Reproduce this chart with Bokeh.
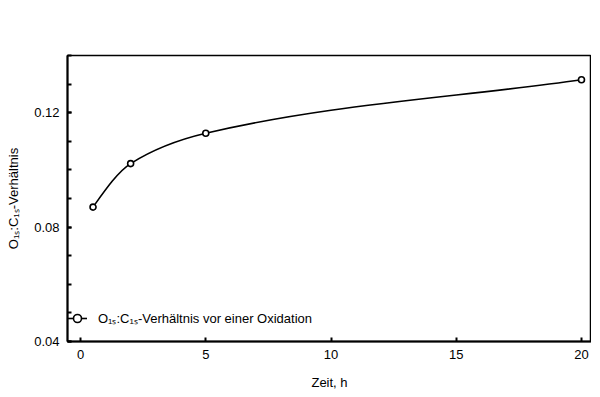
from bokeh.plotting import figure
from bokeh.models import FixedTicker, Legend, LegendItem, Range1d, CustomJSTickFormatter
from bokeh.embed import file_html
from bokeh.resources import INLINE
import numpy as np

# data
zeit_h = [0.5, 2.0, 5.0, 20.0]
verhaeltnis = [0.087, 0.1022, 0.1128, 0.1315]
x_ticks = [0, 5, 10, 15, 20]
y_ticks = [0.04, 0.08, 0.12]
y_minor = [0.04, 0.05, 0.06, 0.07, 0.08, 0.09, 0.10, 0.11, 0.12, 0.13, 0.14]
legend_label = "O\u2081\u209B:C\u2081\u209B-Verhältnis vor einer Oxidation"
y_label = "O\u2081\u209B:C\u2081\u209B-Verhältnis"
x_label = "Zeit, h"

FONT = "Liberation Sans"
FS = "13px"

p = figure(frame_width=524, frame_height=286, output_backend="svg", toolbar_location=None,
           x_range=Range1d(-0.52, 20.4), y_range=Range1d(0.04, 0.14),
           min_border_left=67, min_border_right=0, min_border_top=55, min_border_bottom=43)
p.grid.visible = False
p.outline_line_color = "black"
p.outline_line_width = 1.5
p.background_fill_color = "white"
p.border_fill_color = "white"

# smooth curve through data (monotone cubic Hermite as Bezier segments)
x = np.array(zeit_h); y = np.array(verhaeltnis)
h = np.diff(x); d = np.diff(y) / h
m = np.zeros_like(y)
for i in range(1, len(x) - 1):
    if d[i - 1] * d[i] <= 0:
        m[i] = 0
    else:
        w1 = 2 * h[i] + h[i - 1]; w2 = h[i] + 2 * h[i - 1]
        m[i] = (w1 + w2) / (w1 / d[i - 1] + w2 / d[i])
m[0] = ((2 * h[0] + h[1]) * d[0] - h[0] * d[1]) / (h[0] + h[1])
m[-1] = d[-1]
bz = p.bezier(x0=x[:-1], y0=y[:-1], x1=x[1:], y1=y[1:],
              cx0=x[:-1] + h / 3, cy0=y[:-1] + m[:-1] * h / 3,
              cx1=x[1:] - h / 3, cy1=y[1:] - m[1:] * h / 3,
              line_color="black", line_width=1.6)
sc = p.scatter(zeit_h, verhaeltnis, marker="circle", size=6, fill_color="white",
               line_color="black", line_width=1.6)

legend = Legend(items=[LegendItem(label=legend_label, renderers=[bz, sc])],
                location=(0, 13), border_line_color=None, background_fill_alpha=0,
                label_text_font=FONT, label_text_font_size=FS, label_text_color="black",
                glyph_width=20, label_standoff=11, padding=0, margin=0)
p.add_layout(legend, "center")

for ax in (p.xaxis[0], p.yaxis[0]):
    ax.axis_line_width = 2
    ax.major_tick_in = 4
    ax.major_tick_out = 0
    ax.minor_tick_in = 4
    ax.minor_tick_out = 0
    ax.major_tick_line_width = 2
    ax.minor_tick_line_width = 2
    ax.major_label_text_font = FONT
    ax.major_label_text_font_size = FS
    ax.major_label_text_color = "black"
    ax.axis_label_text_font = FONT
    ax.axis_label_text_font_size = FS
    ax.axis_label_text_font_style = "normal"
    ax.axis_label_text_color = "black"
    ax.major_label_standoff = 8

p.xaxis.ticker = FixedTicker(ticks=x_ticks, minor_ticks=[])
p.yaxis.ticker = FixedTicker(ticks=y_ticks, minor_ticks=y_minor)
p.yaxis.formatter = CustomJSTickFormatter(code="return tick.toFixed(2);")
p.xaxis.axis_label = x_label
p.yaxis.axis_label = y_label
p.xaxis.axis_label_standoff = 13
p.yaxis.axis_label_standoff = 10

open("out.html", "w").write(file_html(p, INLINE))
